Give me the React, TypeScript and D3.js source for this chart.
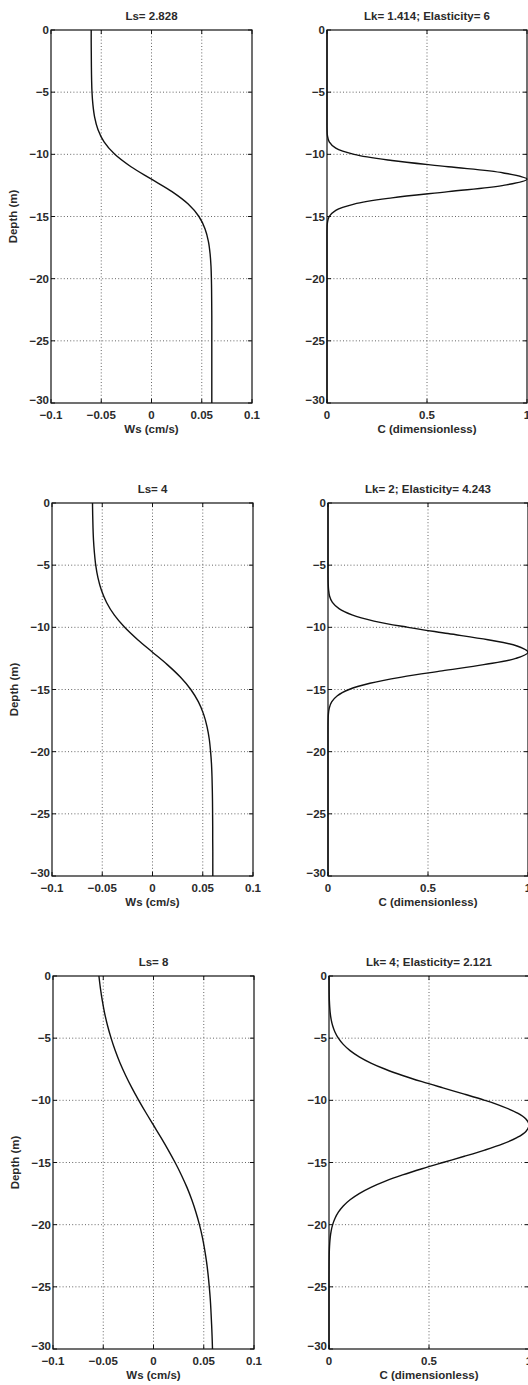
import React from "react";
import * as d3 from "d3";

// ---------- data ----------
const depthWs = [0, -1, -2, -3, -4, -5, -6, -7, -8, -9, -10, -11, -12, -13, -14, -15, -16, -17, -18, -19, -20, -21, -22, -23, -24, -25, -26, -27, -28, -29, -30];

const wsLs2828 = [-0.06, -0.06, -0.0599, -0.0598, -0.0596, -0.0592, -0.0583, -0.0566, -0.0533, -0.0472, -0.0365, -0.0204, 0,
  0.0204, 0.0365, 0.0472, 0.0533, 0.0566, 0.0583, 0.0592, 0.0596, 0.0598, 0.0599, 0.06, 0.06, 0.06, 0.06, 0.06, 0.06, 0.06, 0.06];
const wsLs4 = [-0.0597, -0.0595, -0.0592, -0.0587, -0.0578, -0.0565, -0.0543, -0.0509, -0.0457, -0.0381, -0.0277, -0.0147, 0,
  0.0147, 0.0277, 0.0381, 0.0457, 0.0509, 0.0543, 0.0565, 0.0578, 0.0587, 0.0592, 0.0595, 0.0597, 0.0598, 0.0599, 0.0599, 0.06, 0.06, 0.06];
const wsLs8 = [-0.0543, -0.0528, -0.0509, -0.0486, -0.0457, -0.0422, -0.0381, -0.0333, -0.0277, -0.0215, -0.0147, -0.0075, 0,
  0.0075, 0.0147, 0.0215, 0.0277, 0.0333, 0.0381, 0.0422, 0.0457, 0.0486, 0.0509, 0.0528, 0.0543, 0.0555, 0.0565, 0.0572, 0.0578, 0.0583, 0.0587];

const depthC = [0, -0.5, -1, -1.5, -2, -2.5, -3, -3.5, -4, -4.5, -5, -5.5, -6, -6.5, -7, -7.5, -8, -8.5, -9, -9.5,
  -10, -10.5, -11, -11.5, -12, -12.5, -13, -13.5, -14, -14.5, -15, -15.5, -16, -16.5, -17, -17.5, -18, -18.5, -19, -19.5,
  -20, -20.5, -21, -21.5, -22, -22.5, -23, -23.5, -24, -24.5, -25, -25.5, -26, -26.5, -27, -27.5, -28, -28.5, -29, -29.5, -30];

const cLk1414 = [0, 0, 0, 0, 0, 0, 0, 0, 0, 0, 0, 0, 0, 0, 0, 0,
  0.0003, 0.0022, 0.0111, 0.0439, 0.1353, 0.3247, 0.6065, 0.8825, 1, 0.8825, 0.6065, 0.3247, 0.1353, 0.0439, 0.0111, 0.0022, 0.0003,
  0, 0, 0, 0, 0, 0, 0, 0, 0, 0, 0, 0, 0, 0, 0, 0, 0, 0, 0, 0, 0, 0, 0, 0, 0, 0, 0, 0];
const cLk2 = [0, 0, 0, 0, 0, 0, 0, 0, 0, 0, 0, 0,
  0.0002, 0.001, 0.003, 0.008, 0.022, 0.055, 0.12, 0.23, 0.4, 0.6, 0.8, 0.945, 1,
  0.9394, 0.7788, 0.5698, 0.3679, 0.2096, 0.1054, 0.0468, 0.0183, 0.0063, 0.0019, 0.0005, 0.0001,
  0, 0, 0, 0, 0, 0, 0, 0, 0, 0, 0, 0, 0, 0, 0, 0, 0, 0, 0, 0, 0, 0, 0, 0];
const cLk4 = [0.0001, 0.0003, 0.0005, 0.001, 0.0019, 0.0036, 0.0063, 0.0109, 0.0183, 0.0297, 0.0468, 0.0713, 0.1054, 0.151, 0.2096,
  0.2821, 0.3679, 0.465, 0.5698, 0.6767, 0.7788, 0.8688, 0.9394, 0.9845, 1,
  0.9845, 0.9394, 0.8688, 0.7788, 0.6767, 0.5698, 0.465, 0.3679, 0.2821, 0.2096, 0.151, 0.1054, 0.0713, 0.0468, 0.0297,
  0.0183, 0.0109, 0.0063, 0.0036, 0.0019, 0.001, 0.0005, 0.0003, 0.0001,
  0, 0, 0, 0, 0, 0, 0, 0, 0, 0, 0, 0];

const depthTicks = [0, -5, -10, -15, -20, -25, -30];
const wsTicks = [-0.1, -0.05, 0, 0.05, 0.1];
const wsTickLabels = ["−0.1", "−0.05", "0", "0.05", "0.1"];
const cTicks = [0, 0.5, 1];
const cTickLabels = ["0", "0.5", "1"];

const wsTitles = ["Ls= 2.828", "Ls= 4", "Ls= 8"];
const cTitles = ["Lk= 1.414; Elasticity= 6", "Lk= 2; Elasticity= 4.243", "Lk= 4; Elasticity= 2.121"];
const wsSeries = [wsLs2828, wsLs4, wsLs8];
const cSeries = [cLk1414, cLk2, cLk4];

// ---------- layout ----------
const rowTops = [30, 503, 976];
const leftX0 = [51, 52, 53];
const rightX0 = [327, 328, 329];
const PH = 373;
const LW = 201;
const RW = 200;
const FONT = "'Liberation Sans', Arial, Helvetica, sans-serif";
const TXT = "#2a2a2a";
const FS = 11.5;

function depthLabel(v: number) {
  return v === 0 ? "0" : "−" + Math.abs(v);
}

type PanelProps = {
  x0: number; y0: number; w: number; h: number;
  xDomain: [number, number]; xTicks: number[]; xTickLabels: string[];
  xs: number[]; ys: number[];
  title: string; xLabel: string; yLabel?: string;
};

function Panel({ x0, y0, w, h, xDomain, xTicks, xTickLabels, xs, ys, title, xLabel, yLabel }: PanelProps) {
  const x = d3.scaleLinear().domain(xDomain).range([x0, x0 + w]);
  const y = d3.scaleLinear().domain([0, -30]).range([y0, y0 + h]);
  const pts = xs.map((v, i) => [v, ys[i]] as [number, number]);
  const line = d3.line<[number, number]>()
    .x(d => x(d[0]))
    .y(d => y(d[1]))
    .curve(d3.curveCatmullRom.alpha(0.5));
  const tl = 4;
  const textProps = { fontSize: FS, fontFamily: FONT, fill: TXT, fontWeight: 700 as const };
  return (
    <g>
      {/* grid */}
      {xTicks.slice(1, -1).map((t, i) => (
        <line key={"gx" + i} x1={x(t)} x2={x(t)} y1={y0} y2={y0 + h}
          stroke="#555" strokeWidth={0.9} strokeDasharray="1 2.2" />
      ))}
      {depthTicks.slice(1, -1).map((t, i) => (
        <line key={"gy" + i} x1={x0} x2={x0 + w} y1={y(t)} y2={y(t)}
          stroke="#555" strokeWidth={0.9} strokeDasharray="1 2.2" />
      ))}
      {/* ticks inward */}
      {xTicks.map((t, i) => (
        <g key={"tx" + i}>
          <line x1={x(t)} x2={x(t)} y1={y0 + h} y2={y0 + h - tl} stroke="#111" />
          <line x1={x(t)} x2={x(t)} y1={y0} y2={y0 + tl} stroke="#111" />
        </g>
      ))}
      {depthTicks.map((t, i) => (
        <g key={"ty" + i}>
          <line x1={x0} x2={x0 + tl} y1={y(t)} y2={y(t)} stroke="#111" />
          <line x1={x0 + w} x2={x0 + w - tl} y1={y(t)} y2={y(t)} stroke="#111" />
        </g>
      ))}
      {/* box */}
      <rect x={x0} y={y0} width={w} height={h} fill="none" stroke="#111" strokeWidth={1.2} />
      {/* curve */}
      <path d={line(pts) || ""} fill="none" stroke="#111" strokeWidth={1.4} />
      {/* tick labels */}
      {depthTicks.map((t, i) => (
        <text key={"ly" + i} x={x0 - 2} y={y(t) + (t === -30 ? 1 : 4)} textAnchor="end" {...textProps}>{depthLabel(t)}</text>
      ))}
      {xTicks.map((t, i) => (
        <text key={"lx" + i} x={x(t)} y={y0 + h + 16} textAnchor="middle" {...textProps}>{xTickLabels[i]}</text>
      ))}
      <text x={x0 + w / 2} y={y0 + h + 30} textAnchor="middle" {...textProps}>{xLabel}</text>
      <text x={x0 + w / 2} y={y0 - 10} textAnchor="middle" {...textProps}>{title}</text>
      {yLabel && (
        <text transform={`translate(${x0 - 34},${y0 + h / 2}) rotate(-90)`} textAnchor="middle" {...textProps}>{yLabel}</text>
      )}
    </g>
  );
}

export default function App() {
  return (
    <svg width={528} height={1385} style={{ position: "absolute", left: 0, top: 0, background: "#fff" }}>
      <rect width={528} height={1385} fill="#fff" />
      {rowTops.map((top, r) => (
        <g key={r}>
          <Panel x0={leftX0[r]} y0={top} w={LW} h={PH} xDomain={[-0.1, 0.1]} xTicks={wsTicks} xTickLabels={wsTickLabels}
            xs={wsSeries[r]} ys={depthWs} title={wsTitles[r]} xLabel="Ws (cm/s)" yLabel="Depth (m)" />
          <Panel x0={rightX0[r]} y0={top} w={RW} h={PH} xDomain={[0, 1]} xTicks={cTicks} xTickLabels={cTickLabels}
            xs={cSeries[r]} ys={depthC} title={cTitles[r]} xLabel="C (dimensionless)" />
        </g>
      ))}
    </svg>
  );
}
